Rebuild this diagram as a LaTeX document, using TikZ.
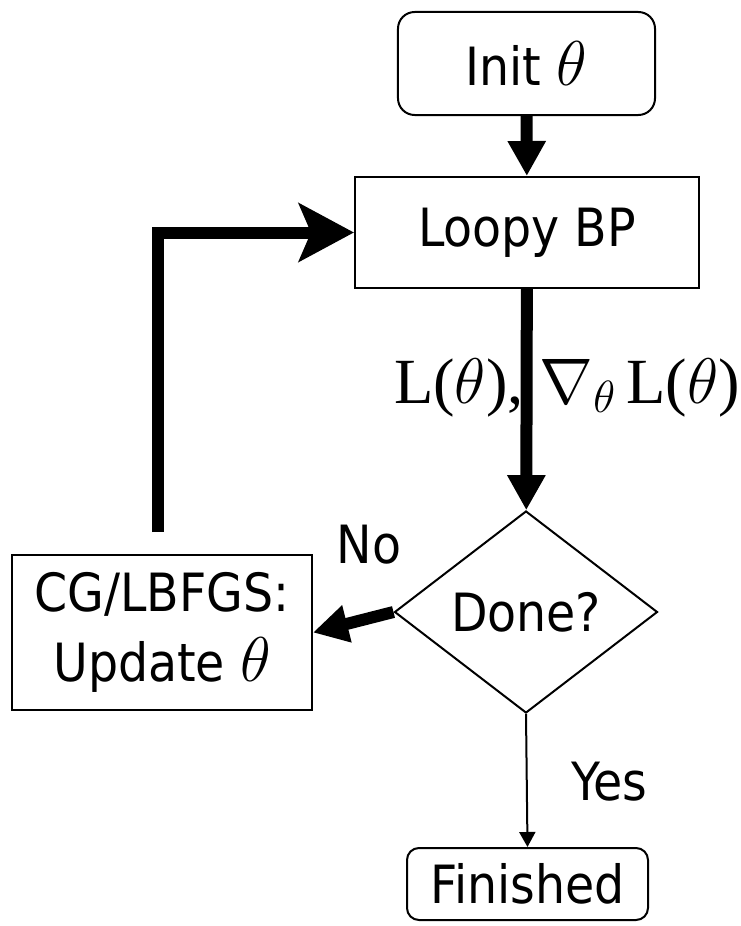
\RequirePackage{fix-cm}
\documentclass[tikz,border=0pt]{standalone}
\usepackage{fontspec}
\IfFontExistsTF{DejaVu Sans Condensed}
  {\setmainfont{DejaVu Sans Condensed}}
  {\setmainfont{DejaVu Sans}}
\newfontfamily\lblfont{Liberation Serif}
\usetikzlibrary{arrows.meta, shapes.geometric, positioning}

\newcommand{\bigth}{{\fontsize{54}{60}\selectfont$\theta$}}

\tikzset{
  %% -- flowchart terminal (rounded) --
  fc/term/.style={
    draw, line width=0.06cm, rounded corners=0.5cm,
    inner sep=0pt, align=center
  },
  %% -- flowchart process box --
  fc/proc/.style={
    draw, line width=0.06cm, inner sep=0pt, align=center
  },
  %% -- flowchart decision --
  fc/dec/.style={
    draw, diamond, aspect=1.3, line width=0.06cm, inner sep=0pt,
    minimum width=7.89cm, minimum height=6.06cm
  },
  %% -- arrows --
  fc/arr/.style={line width=0.36cm, -{Triangle[length=1.05cm, width=1.08cm]}},
  fc/loop/.style={line width=0.36cm, -{Stealth[length=1.65cm, width=1.74cm, inset=0.36cm]}},
  fc/thin/.style={line width=0.06cm, -{Triangle[length=0.45cm, width=0.48cm]}},
}

\begin{document}
\begin{tikzpicture}[
  every node/.style={font={\fontsize{45}{60}\selectfont}},
  x=0.03cm, y=-0.03cm,
]
\useasboundingbox (0,0) rectangle (741,926);

%% Nodes
\node[fc/term, minimum width=7.71cm, minimum height=3.09cm]
  (init)   at (526.5, 63.5) {Init \bigth};
\node[fc/proc, minimum width=10.32cm, minimum height=3.33cm]
  (loopy)  at (527, 232.5) {Loopy BP};
\node[fc/dec]
  (done)   at (526, 612) {Done?};
\node[fc/proc, minimum width=9.0cm, minimum height=4.65cm]
  (update) at (162, 632.5) {CG/LBFGS:\\Update \bigth};
\node[fc/term, rounded corners=0.36cm, minimum width=7.23cm, minimum height=2.16cm]
  (fin)    at (527.5, 884) {Finished};

%% Edge labels
\node[font={\fontsize{55}{60}\lblfont}, anchor=base west]
  (grad) at (390, 403) {L($\theta$), $\nabla_{\theta}$\,L($\theta$)};
\node (no)  at (369, 545) {No};
\node (yes) at (609, 782) {Yes};

%% Main flow
\draw[fc/arr] (init) -- (loopy);
\draw[fc/arr] (loopy) -- (done);
\draw[fc/arr] (done.west) -- (update.east);
\draw[fc/thin] (done.south) -- (fin.north);

%% Loop back
\coordinate (back) at (158, 532);
\draw[fc/loop] (back) |- (loopy.west);
\end{tikzpicture}
\end{document}
